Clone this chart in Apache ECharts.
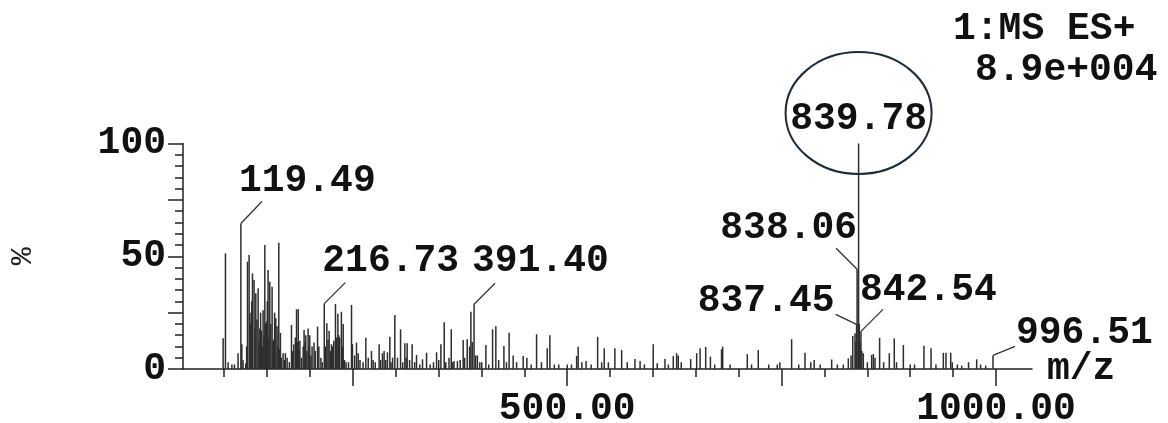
<!DOCTYPE html>
<html><head><meta charset="utf-8">
<style>html,body{margin:0;padding:0;background:#fff}#c{width:1168px;height:423px}</style>
<script src="https://cdn.jsdelivr.net/npm/echarts@6.0.0/dist/echarts.min.js"></script>
</head><body><div id="c"></div>
<script>
// ---- data ----
const peakMz = [98.8,101.5,104.6,109,112,116.2,119.49,120.6,122,125.2,126.2,127.2,129.1,130.1,131,132.1,133,134.9,136,136.9,138.2,139.6,140.6,141.6,142.5,143.5,144.4,145.4,146.4,147.4,148.4,149.3,150.3,151.2,152.2,153.2,154.4,155.9,156.9,157.8,158.8,160.2,161.7,162.7,163.7,164.7,165.6,166.6,168.7,170.2,171.4,173.4,176,178.5,180,181.2,183,184.4,185.4,186.4,187.4,188.3,190.2,192.1,193.2,194.2,195.2,196.4,197.9,198.9,199.8,201.2,202.5,204.8,206.3,208.9,210.4,212.8,214.4,216.73,218.2,219.7,221.1,222.4,224,225.1,226.4,227.8,229.8,231.2,232.6,233.6,234.6,236.7,237.7,238.8,240.3,242.2,245,248.5,249.6,252.1,254.3,256.3,258.4,262,265.2,268,271.8,273.7,276.2,280.7,282.4,284.6,286.5,288.4,290.4,293.2,294.6,296.4,299,302.1,305.7,308.2,310.7,312.2,313.4,316.2,319.2,322.1,324.3,328.1,331.3,336,340.2,344.1,347.7,350.2,352.7,356.6,358.4,362.2,364.8,366.4,368,372,375.2,378.7,380.4,383.4,386.2,387.7,389.3,391.40,393.2,395.3,398.1,400.4,405.2,408.5,413,416.8,420.1,426.2,429.2,432.3,437,441,448.7,453,458,464.3,470,476.7,479.8,485,490.2,500.1,505,511,512.8,517.1,522,528,535.5,540.2,543.2,548,555.6,563.5,570,579,585,590,600.3,605,614,618,623.7,627.6,629.5,633,644,651,655,661.5,667,672,680,681.3,690,710,715,722.8,735,745,748,761.7,770,777.3,784,788,795,808.4,815,822,827.8,831,833,835.6,836.6,837.45,838.06,839.78,840.6,841.5,842.54,843.6,845.3,850,855,857,859,864.3,869,875.6,881.4,884,892,900,905,916,924.3,930,938.6,941.7,947.2,949,955,960,968,977.5,982,988,996.51];
const peakInt = [13.6,51.3,3,2,2,7,64.5,11,4,2.5,10,47.6,50.5,25,20,30,42.4,39.5,18,33.6,22,35.8,12,18,25,17,10,26,15,55,20,21,30,43.9,14,38.7,20,36.5,12,13,25,22.5,19,10,56,9,16,5,7,4,7,5,3,19.5,8,11,14,26.5,12,26.5,8,12.5,5,10,17.3,12,15,8,18,10,15,6,10,11.8,8,18.8,10,5,3,29,10,20.3,13,17,8,11,10,12.5,28.8,14,24.5,15,14,25.4,10,20,4,3,3,28.4,11,6,11.7,7,4,3,13.9,5,8,4,3,11,4,7,8,4,7.4,14.3,3,5,24,5,17.6,3,11.4,5,11.4,4,11,3,6.2,2,4.3,7.2,2,3,7.4,4,11,20.7,3,5,17.6,3,3.5,3.5,4,12.9,5,13.2,10,25.4,12,28.7,6,6,3,3,10.6,2,17.6,19,4,10.2,3,16.1,6,3,5.8,5,2,15.4,3,9.2,15,2,2,2,2,5.8,9.9,3,3.5,2,14.3,3,9.2,3,9.2,8.4,3,4.4,3.5,2,11,2.5,4.4,2,5.8,7,6,3,4.4,7,9.2,9.8,5.5,2,8.7,9.9,2,6.6,2,8.4,2,2,3,13.2,2,7.2,3,4,2,4.2,2,2,4.7,6,14.6,15.8,12,19.8,44.2,100,20,12,16.7,8,7,3,6.2,6.6,5,13.8,3,7,13.6,3,10.6,2,2,10.3,9.2,2,7.2,7.2,7.2,3,2,1.5,3,4.3,2,1.5,6];
const annotatedMz = [119.49, 216.73, 391.40, 838.06, 837.45, 842.54, 996.51, 839.78];
const xMajorTicks = [250, 500, 750, 1000];
const xMinorTicks = [100,150,200,250,300,350,400,450,500,550,600,650,700,750,800,850,900,950,1000];
const xTickLabels = [500, 1000];
const yTickLabels = [0, 50, 100];
const titleLines = ['1:MS ES+', '8.9e+004'];
const xName = 'm/z';
const yName = '%';

// ---- layout / style (pixels) ----
const FONT_FAMILY = '"Liberation Mono", "Courier New", monospace';
const FONT = 'bold 38px ' + FONT_FAMILY;
const annotLayout = [
  {lx:21, ly:-22, tx:-2, ty:-42, align:'left'},
  {lx:21, ly:-21, tx:-2, ty:-42, align:'left'},
  {lx:21, ly:-21, tx:-2, ty:-43, align:'left'},
  {lx:-21, ly:-21, tx:0, ty:-41, align:'right'},
  {lx:-21, ly:-10, tx:-22, ty:-22.5, align:'right'},
  {lx:22, ly:-22, tx:-1, ty:-41, align:'left'},
  {lx:22, ly:-9, tx:23, ty:-22.5, align:'left'},
  {lx:0, ly:0, tx:0, ty:-24, align:'center', ellipse:{dx:0, dy:-30.5, rx:73, ry:61}}
];

const peaks = peakMz.map((m, i) => [m, peakInt[i]]);
const annots = annotatedMz.map(m => [m, peakInt[peakMz.indexOf(m)]]);

const chart = echarts.init(document.getElementById('c'), null, {renderer:'canvas'});
const axisColor = '#222';
const labelStyle = {fontFamily: FONT_FAMILY, fontWeight:'bold', fontSize:38, color:'#111'};

chart.setOption({
  animation: false,
  backgroundColor: '#fff',
  grid: {left:183, right:136, top:143.5, bottom:54, containLabel:false, outerBoundsMode:'none'},
  xAxis: [{
    type:'value', min:52, max:1042,
    name: xName, nameLocation:'end', nameGap:15,
    nameTextStyle: {fontFamily: FONT_FAMILY, fontWeight:'bold', fontSize:38, color:'#111', verticalAlign:'middle', padding:[18,0,0,0]},
    axisLine:{show:true, onZero:false, lineStyle:{color:axisColor, width:1.5}},
    axisTick:{show:true, customValues:xMajorTicks, length:17, lineStyle:{color:axisColor, width:1.5}},
    axisLabel:{show:true, customValues:xTickLabels, margin:21, formatter:v => Number(v).toFixed(2), ...labelStyle},
    splitLine:{show:false}
  },{
    type:'value', min:52, max:1042, position:'bottom',
    axisLine:{show:false},
    axisTick:{show:true, customValues:xMinorTicks, length:8, lineStyle:{color:axisColor, width:1.5}},
    axisLabel:{show:false},
    splitLine:{show:false}
  }],
  yAxis: [{
    type:'value', min:0, max:100, interval:25,
    name: yName, nameLocation:'middle', nameGap:145, nameRotate:90,
    nameTextStyle:{fontFamily:FONT_FAMILY, fontSize:30, color:'#222'},
    axisLine:{show:true, lineStyle:{color:axisColor, width:1.5}},
    axisTick:{show:true, length:15, lineStyle:{color:axisColor, width:1.5}},
    minorTick:{show:true, splitNumber:5, length:8, lineStyle:{color:axisColor, width:1.5}},
    axisLabel:{show:true, customValues:yTickLabels, margin:17, ...labelStyle},
    splitLine:{show:false}, minorSplitLine:{show:false}
  }],
  graphic: [
    {type:'text', x:953, y:29, style:{text:titleLines[0], font:FONT, fill:'#111', align:'left', verticalAlign:'middle'}},
    {type:'text', x:975, y:70, style:{text:titleLines[1], font:FONT, fill:'#111', align:'left', verticalAlign:'middle'}}
  ],
  series: [{
    type:'bar', data:peaks, xAxisIndex:0, yAxisIndex:0,
    barWidth:1.5, barGap:'-100%', silent:true,
    itemStyle:{color:'#2d2d2d'}
  },{
    type:'custom', data:annots, xAxisIndex:0, yAxisIndex:0, clip:false, silent:true, z:5,
    renderItem:function(params, api){
      const i = params.dataIndex;
      const mz = api.value(0), it = api.value(1);
      const p = api.coord([mz, it]);
      const L = annotLayout[i];
      const children = [];
      if (L.lx || L.ly) {
        children.push({type:'line', shape:{x1:p[0], y1:p[1], x2:p[0]+L.lx, y2:p[1]+L.ly}, style:{stroke:'#333', lineWidth:1.3}});
      }
      children.push({type:'text', style:{text:mz.toFixed(2), x:p[0]+L.tx, y:p[1]+L.ty, font:FONT, fill:'#111', align:L.align, verticalAlign:'middle'}});
      if (L.ellipse) {
        children.push({type:'ellipse', shape:{cx:p[0]+L.ellipse.dx, cy:p[1]+L.ellipse.dy, rx:L.ellipse.rx, ry:L.ellipse.ry}, style:{fill:null, stroke:'#1b2b3a', lineWidth:2}});
      }
      return {type:'group', children};
    }
  }]
});
</script></body></html>
